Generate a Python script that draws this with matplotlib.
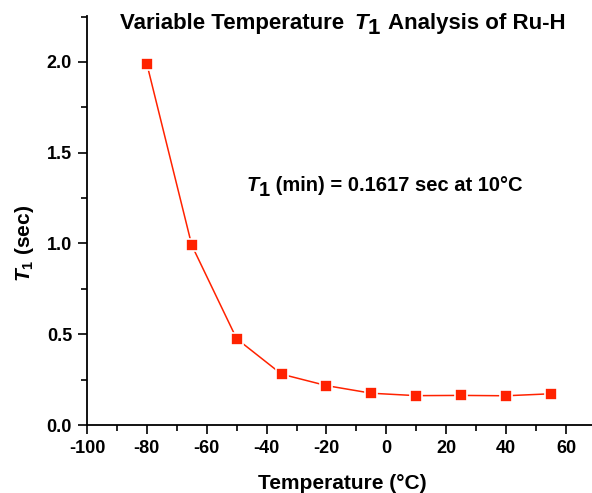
import matplotlib
matplotlib.use("Agg")
import matplotlib.pyplot as plt
from matplotlib.ticker import MultipleLocator

temperature = [-80, -65, -50, -35, -20, -5, 10, 25, 40, 55]
t1_sec = [1.989, 0.990, 0.475, 0.280, 0.217, 0.175, 0.1617, 0.163, 0.161, 0.172]

xticks = [-100, -80, -60, -40, -20, 0, 20, 40, 60]
yticks = [0.0, 0.5, 1.0, 1.5, 2.0]

plt.rcParams['font.family'] = ['Liberation Sans', 'DejaVu Sans']
plt.rcParams['font.weight'] = 'bold'
plt.rcParams['mathtext.fontset'] = 'custom'
plt.rcParams['mathtext.rm'] = 'Liberation Sans:bold'
plt.rcParams['mathtext.bf'] = 'Liberation Sans:bold'
plt.rcParams['mathtext.it'] = 'Liberation Sans:italic:bold'

W, H = 592, 493
fig = plt.figure(figsize=(W / 100, H / 100), dpi=100)
ax = fig.add_axes([87 / W, 1 - 425 / H, (W - 87) / W, (425 - 16) / H])

red = '#ff2200'
ax.plot(temperature, t1_sec, color=red, lw=1.1, marker='s', ms=8.6,
        mfc=red, mec='white', mew=1.2, zorder=3)

ax.set_xlim(-100, 68.7)
ax.set_ylim(0, 2.253)
ax.set_xticks(xticks)
ax.set_yticks(yticks)
ax.set_xticklabels([str(v) for v in xticks])
ax.set_yticklabels([f"{v:.1f}" for v in yticks])
ax.xaxis.set_minor_locator(MultipleLocator(10))
ax.yaxis.set_minor_locator(MultipleLocator(0.25))

for s in ['top', 'right']:
    ax.spines[s].set_visible(False)
for s in ['left', 'bottom']:
    ax.spines[s].set_linewidth(1.3)
ax.tick_params(which='major', direction='out', length=6.5, width=1.2,
               labelsize=13, pad=4.3)
ax.tick_params(which='minor', direction='out', length=4.3, width=1.2)
ax.tick_params(axis='x', which='major', pad=4)

ax.set_xlabel("Temperature (\u00b0C)", fontsize=15, fontweight='bold')
ax.xaxis.label.set_va('baseline')
ax.xaxis.set_label_coords((342 - 87) / 505, -(489 - 425) / 409)
ax.set_ylabel(r"$\mathit{T}_{1}$ (sec)", fontsize=15, fontweight='bold')
ax.yaxis.set_label_coords((36 - 87) / 505, (425 - 243) / 409)


def chain(x, y, parts, size):
    """parts: list of (text, style, dx_px, dy_px) -- offsets relative to
    the end of the previous piece / baseline."""
    text0, st0, _, _ = parts[0]
    prev = fig.text(x, y, text0, fontsize=size, fontweight='bold',
                    fontstyle=st0, ha='left', va='baseline')
    prev_dy = 0
    for text, st, dx, dy in parts[1:]:
        a = ax.annotate(text, xy=(1, 0), xycoords=prev,
                        xytext=(dx, dy - prev_dy), textcoords='offset pixels',
                        fontsize=size, fontweight='bold', fontstyle=st,
                        ha='left', va='bottom', annotation_clip=False)
        prev = a
        prev_dy = dy


chain(120 / W, 1 - 29 / H,
      [("Variable Temperature", 'normal', 0, 0),
       ("T", 'italic', 10, 0),
       ("1", 'normal', 0, -5),
       ("Analysis of Ru-H", 'normal', 8, 0)], 16)
chain(246.7 / W, 1 - 191 / H,
      [("T", 'italic', 0, 0),
       ("1", 'normal', 0, -5),
       (" (min) = 0.1617 sec at 10\u00b0C", 'normal', 0, 0)], 14.5)

fig.savefig("out.png", dpi=100)
